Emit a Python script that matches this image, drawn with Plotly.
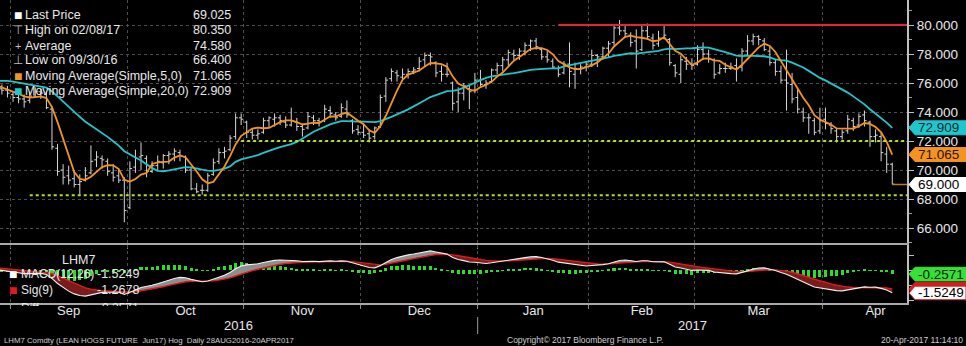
import numpy as np
import pandas as pd
import plotly.graph_objects as go

W, H = 966, 346

# Sessions just before the window; they only seed the averages and the MACD
prior_close = [75.4, 75.6, 75.9, 76.2, 76.0, 76.4, 76.6, 76.3, 76.5, 76.8,
               76.6, 76.4, 76.7, 76.3, 76.1, 76.2, 75.9, 75.7, 75.8]

# Daily OHLC, LHM7 (Lean Hogs Jun17), 29 Aug 2016 - 20 Apr 2017
open_ = [75.8, 75.6, 75.5, 75.2, 75.0, 74.9, 74.8, 75.1, 75.4, 75.2,
         74.2, 71.5, 70.0, 69.6, 69.4, 69.0, 69.3, 69.8, 70.7, 70.8,
         70.6, 69.8, 69.6, 69.3, 67.4, 70.2, 70.9, 70.8, 69.9, 70.3,
         70.5, 71.0, 71.1, 71.2, 70.9, 70.0, 68.7, 68.6, 68.6, 69.7,
         70.6, 71.2, 71.4, 72.3, 73.6, 73.3, 72.6, 72.4, 72.6, 73.4,
         73.5, 73.6, 73.3, 73.1, 73.3, 73.0, 72.9, 73.6, 73.4, 73.4,
         74.1, 73.8, 73.7, 74.2, 73.4, 72.8, 72.6, 72.5, 72.3, 73.0,
         75.1, 76.3, 76.7, 76.4, 76.6, 76.8, 77.0, 77.6, 77.9, 77.4,
         76.8, 76.6, 76.0, 74.7, 75.3, 75.6, 75.5, 76.2, 75.9, 76.1,
         76.9, 77.2, 77.6, 78.0, 77.9, 78.2, 78.6, 78.9, 78.3, 77.8,
         77.5, 77.0, 76.7, 77.3, 76.6, 77.0, 77.1, 77.3, 77.9, 77.8,
         78.4, 78.8, 79.8, 79.6, 79.3, 78.9, 78.3, 79.6, 79.1, 78.7,
         79.1, 79.0, 77.2, 76.6, 77.5, 77.3, 77.3, 78.3, 78.0, 77.6,
         76.7, 77.0, 77.0, 77.2, 77.1, 78.2, 78.9, 79.2, 78.9, 78.2,
         77.4, 76.8, 76.2, 75.9, 75.0, 74.0, 73.6, 73.4, 72.7, 73.5,
         73.1, 72.7, 72.3, 72.7, 73.4, 73.1, 73.8, 73.3, 72.3, 72.3,
         71.1, 70.4]
high = [76.1, 75.9, 75.8, 75.4, 75.5, 75.2, 75.4, 75.7, 75.6, 75.4,
        74.4, 71.8, 70.4, 70.3, 70.0, 69.7, 70.2, 71.7, 71.3, 71.0,
        70.8, 70.4, 70.0, 69.5, 70.6, 71.4, 71.9, 71.0, 70.6, 71.0,
        71.1, 71.3, 71.5, 71.4, 71.0, 70.2, 69.1, 69.0, 69.8, 70.8,
        71.5, 71.6, 72.4, 73.9, 73.9, 73.4, 72.9, 72.8, 73.6, 73.7,
        73.9, 73.8, 73.7, 74.3, 73.6, 73.2, 74.0, 73.8, 73.6, 74.5,
        74.4, 74.0, 74.6, 74.8, 73.5, 73.1, 73.2, 72.8, 73.0, 75.2,
        76.4, 77.0, 76.9, 77.0, 77.0, 77.1, 77.8, 78.1, 78.1, 77.5,
        77.2, 77.4, 76.1, 75.7, 76.0, 75.8, 76.7, 76.9, 76.2, 77.0,
        77.4, 77.8, 78.3, 78.3, 78.4, 78.8, 79.0, 79.1, 78.4, 78.2,
        77.7, 77.2, 77.5, 78.8, 77.4, 77.3, 77.5, 78.3, 78.0, 78.5,
        78.9, 80.0, 80.35, 80.0, 79.5, 79.7, 80.0, 80.1, 79.4, 79.6,
        80.0, 79.1, 77.3, 77.9, 77.8, 77.7, 78.6, 78.8, 78.3, 77.7,
        77.3, 77.4, 77.4, 77.7, 78.4, 79.3, 79.4, 79.3, 79.1, 78.5,
        77.6, 77.2, 78.3, 76.7, 75.7, 74.3, 73.9, 73.6, 74.3, 74.3,
        73.3, 72.9, 72.8, 73.8, 73.6, 73.9, 74.1, 73.4, 72.8, 72.6,
        71.6, 70.5]
low = [75.3, 75.2, 75.0, 74.7, 74.6, 74.3, 74.6, 75.0, 74.9, 74.2,
       71.4, 69.6, 69.0, 69.0, 68.8, 68.3, 69.2, 69.7, 70.2, 70.1,
       69.6, 69.2, 69.1, 66.4, 67.3, 69.8, 70.0, 69.5, 69.8, 70.0,
       70.1, 70.4, 70.6, 70.6, 69.8, 68.6, 68.4, 68.3, 68.5, 69.6,
       70.4, 70.8, 71.3, 72.1, 73.1, 72.2, 72.1, 72.1, 72.5, 72.9,
       73.0, 73.1, 72.9, 73.0, 72.7, 72.3, 72.8, 73.1, 73.0, 73.3,
       73.6, 73.4, 73.6, 73.6, 72.5, 72.4, 72.2, 71.9, 72.1, 72.9,
       74.7, 76.1, 76.1, 76.2, 76.3, 76.6, 76.8, 77.1, 77.2, 76.4,
       76.1, 76.4, 74.1, 74.0, 74.8, 74.2, 75.3, 75.8, 75.6, 76.0,
       76.6, 76.8, 77.2, 77.6, 77.6, 77.9, 78.2, 78.3, 77.6, 77.4,
       77.0, 76.4, 76.6, 75.7, 75.6, 76.6, 76.8, 77.1, 77.1, 77.6,
       77.8, 78.6, 79.3, 79.1, 78.5, 77.0, 78.2, 79.0, 78.3, 78.5,
       79.0, 77.2, 76.4, 76.0, 76.9, 76.9, 77.2, 77.6, 77.4, 76.3,
       76.6, 76.7, 76.9, 76.1, 76.8, 77.9, 78.6, 78.6, 78.2, 77.2,
       76.5, 76.0, 74.1, 74.6, 73.9, 73.3, 72.5, 72.4, 72.5, 72.8,
       72.5, 71.9, 72.1, 72.5, 72.7, 72.9, 73.0, 71.6, 71.9, 70.6,
       69.8, 69.0]
close = [75.6, 75.5, 75.3, 75.0, 74.9, 74.7, 75.1, 75.4, 75.3, 74.3,
         71.6, 69.9, 69.5, 69.3, 69.0, 69.2, 69.6, 70.6, 70.9, 70.7,
         69.9, 69.5, 69.3, 67.2, 70.1, 70.8, 71.0, 69.9, 70.3, 70.6,
         71.0, 71.1, 71.3, 71.0, 70.0, 68.7, 68.5, 68.6, 69.6, 70.5,
         71.2, 71.3, 72.2, 73.6, 73.5, 72.6, 72.4, 72.5, 73.4, 73.6,
         73.6, 73.4, 73.1, 73.4, 73.0, 72.8, 73.7, 73.4, 73.3, 74.2,
         73.9, 73.6, 74.3, 73.8, 72.7, 72.6, 72.4, 72.2, 72.9, 75.0,
         76.2, 76.8, 76.5, 76.6, 76.8, 76.9, 77.5, 77.9, 77.8, 76.7,
         76.6, 76.6, 74.6, 75.3, 75.8, 75.4, 76.2, 75.9, 76.0, 76.9,
         77.2, 77.6, 78.1, 77.9, 78.2, 78.6, 78.9, 78.5, 77.8, 77.6,
         77.1, 76.6, 77.3, 76.8, 77.0, 77.1, 77.3, 77.9, 77.8, 78.4,
         78.7, 79.8, 79.6, 79.4, 78.8, 78.2, 79.6, 79.2, 78.6, 79.1,
         79.3, 77.4, 76.7, 77.6, 77.3, 77.2, 78.3, 78.0, 77.7, 76.6,
         77.0, 77.0, 77.1, 77.0, 78.2, 78.9, 79.2, 79.0, 78.3, 77.4,
         76.8, 76.2, 76.0, 74.9, 74.2, 73.6, 73.6, 72.6, 73.4, 73.2,
         72.85, 72.3, 72.6, 73.5, 73.0, 73.7, 73.4, 72.3, 72.4, 71.2,
         70.4, 69.025]

holidays = ["2016-09-05", "2016-11-24", "2016-12-26", "2017-01-02",
            "2017-01-16", "2017-02-20", "2017-04-14"]
month_labels = ["Sep", "Oct", "Nov", "Dec", "Jan", "Feb", "Mar", "Apr"]
year_labels = ["2016", "2017"]
price_ticks = [66, 68, 70, 72, 74, 76, 78, 80]

resistance = {"level": 80.0, "from": "2017-01-24"}
supports = [{"level": 72.0, "from": "2016-10-31"},
            {"level": 68.25, "from": "2016-09-07"}]

legend_rows = [("Last Price", "69.025"), ("High on 02/08/17", "80.350"),
               ("Average", "74.580"), ("Low on 09/30/16", "66.400"),
               ("Moving Average(Simple,5,0)", "71.065"),
               ("Moving Average(Simple,20,0)", "72.909")]
macd_rows = [("MACD(12,26)", "-1.5249"), ("Sig(9)", "-1.2678"), ("Diff", "-0.2571")]
price_tags = [72.909, 71.065, 69.000]
macd_tags = [-1.2678, -1.5249, -0.2571]

# ---- trading calendar (index axis, no weekend gaps) ----
sessions = pd.bdate_range("2016-08-29", "2017-04-20")
sessions = sessions[~sessions.isin(pd.to_datetime(holidays))]
n = len(close)
assert len(sessions) == n
idx = np.arange(n)

def session_index(day):
    return int(sessions.get_loc(pd.Timestamp(day)))

month_first = [i for i in range(1, n) if sessions[i].month != sessions[i - 1].month]
bounds = [i - 0.5 for i in month_first]
last_month = pd.bdate_range("2017-04-01", "2017-04-30")
last_month = last_month[~last_month.isin(pd.to_datetime(holidays))]
ends = bounds[1:] + [bounds[-1] + len(last_month)]
month_mid = [(a + b) / 2 for a, b in zip(bounds, ends)]

x_range = [0.66, 163.65]
year_split = bounds[month_labels.index("Jan")]
year_mid = [(x_range[0] + year_split) / 2, (year_split + x_range[1]) / 2]

# ---- studies ----
c_all = pd.Series(prior_close + close, dtype=float)
k0 = len(prior_close)
ma5 = c_all.rolling(5).mean().to_numpy()[k0:]
ma20 = c_all.rolling(20).mean().to_numpy()[k0:]
macd_all = c_all.ewm(span=12, adjust=False).mean() - c_all.ewm(span=26, adjust=False).mean()
sig_all = macd_all.ewm(span=9, adjust=False).mean()
macd = macd_all.to_numpy()[k0:]
sig = sig_all.to_numpy()[k0:]
hist = macd - sig

# ---- layout geometry ----
def px(x):
    return x / W

def py(y):
    return 1 - y / H

x_dom = [0, px(907)]
main_dom = [py(243), 1]
macd_dom = [py(303), py(245)]
main_rng = [80 - 218 / 14.5, 80 + 25 / 14.5]
macd_rng = [-2.2, 1.7]

FONT = "Liberation Sans, Arial, sans-serif"
TXT = "#e8e8e8"
GRID = "#4d4d4d"
BAR = "#d6d6d6"
ORANGE = "#f39322"
CYAN = "#1fc6cc"

fig = go.Figure()

fig.add_trace(go.Ohlc(x=idx, open=open_, high=high, low=low, close=close,
                      increasing_line_color=BAR, decreasing_line_color=BAR,
                      line_width=1, tickwidth=0.4, xaxis="x", yaxis="y",
                      hoverinfo="skip", showlegend=False))
fig.add_trace(go.Scatter(x=idx, y=ma20, mode="lines", line=dict(color=CYAN, width=1.8),
                         xaxis="x", yaxis="y", hoverinfo="skip", showlegend=False))
fig.add_trace(go.Scatter(x=idx, y=ma5, mode="lines", line=dict(color=ORANGE, width=1.8),
                         xaxis="x", yaxis="y", hoverinfo="skip", showlegend=False))

# MACD histogram
fig.add_trace(go.Bar(x=idx, y=hist, width=0.55, marker=dict(color="#2bdc2b", line_width=0),
                     xaxis="x2", yaxis="y2", hoverinfo="skip", showlegend=False))

# band between MACD and signal, grey above / dark red below
above = hist >= 0
start = 0
for k in range(1, n + 1):
    if k == n or above[k] != above[start]:
        xs = list(idx[start:k].astype(float))
        ym = list(macd[start:k])
        ys = list(sig[start:k])
        if start > 0:
            t = hist[start - 1] / (hist[start - 1] - hist[start])
            yc = macd[start - 1] + t * (macd[start] - macd[start - 1])
            xs, ym, ys = [start - 1 + t] + xs, [yc] + ym, [yc] + ys
        if k < n:
            t = hist[k - 1] / (hist[k - 1] - hist[k])
            yc = macd[k - 1] + t * (macd[k] - macd[k - 1])
            xs, ym, ys = xs + [k - 1 + t], ym + [yc], ys + [yc]
        fig.add_trace(go.Scatter(x=xs + xs[::-1], y=ym + ys[::-1], mode="lines",
                                 fill="toself", line=dict(width=0),
                                 fillcolor="#8e8e8e" if above[start] else "#7a1c1c",
                                 xaxis="x2", yaxis="y2", hoverinfo="skip", showlegend=False))
        start = k

fig.add_trace(go.Scatter(x=idx, y=sig, mode="lines", line=dict(color="#e01a1a", width=1.4),
                         xaxis="x2", yaxis="y2", hoverinfo="skip", showlegend=False))
fig.add_trace(go.Scatter(x=idx, y=macd, mode="lines", line=dict(color="#f2f2f2", width=1.1),
                         xaxis="x2", yaxis="y2", hoverinfo="skip", showlegend=False))

shapes = []
shapes.append(dict(type="line", xref="x", yref="y", layer="above",
                   x0=session_index(resistance["from"]), x1=x_range[1],
                   y0=resistance["level"], y1=resistance["level"],
                   line=dict(color="#e8213f", width=2)))
for s in supports:
    shapes.append(dict(type="line", xref="x", yref="y", layer="above",
                       x0=session_index(s["from"]), x1=x_range[1],
                       y0=s["level"], y1=s["level"],
                       line=dict(color="#b4e01e", width=2, dash="dot")))
# last-price leader to the axis tag
shapes.append(dict(type="line", xref="x", yref="y", layer="above",
                   x0=idx[-1], x1=x_range[1], y0=price_tags[2], y1=price_tags[2],
                   line=dict(color="#b9782e", width=1.5)))
# year separator under the month row
shapes.append(dict(type="line", xref="x2", yref="paper", x0=year_split, x1=year_split,
                   y0=py(334), y1=py(317), line=dict(color="#9a9a9a", width=1)))

def tag(value, yref, half, fill, edge=None):
    a, b = px(909), px(915)
    path = (f"M {a},{value} L {b},{value + half} L 1,{value + half} "
            f"L 1,{value - half} L {b},{value - half} Z")
    return dict(type="path", xref="paper", yref=yref, path=path, fillcolor=fill,
                line=dict(color=edge or fill, width=1), layer="above")

main_half = 7 / 14.5
macd_half = 6.8 / (58 / (macd_rng[1] - macd_rng[0]))
tag_fill = [CYAN, ORANGE, "#ffffff"]
tag_text = ["#0c2b33", "#2b1400", "#000000"]
for v, f in zip(price_tags, tag_fill):
    shapes.append(tag(v, "y", main_half, f))
shapes.append(tag(macd_tags[0], "y2", macd_half, "#d81c1c"))
shapes.append(tag(macd_tags[1], "y2", macd_half, "#ffffff", "#d81c1c"))
shapes.append(tag(macd_tags[2], "y2", macd_half, "#36e036"))

ann = []

def label(x, y, text, color=TXT, size=12.5, xanchor="left", yref="paper", **kw):
    d = dict(x=px(x), y=py(y) if yref == "paper" else y, xref="paper", yref=yref,
             text=text, showarrow=False, xanchor=xanchor, yanchor="middle",
             font=dict(family=FONT, size=size, color=color))
    d.update(kw)
    ann.append(d)

for v, f, t in zip(price_tags, tag_fill, tag_text):
    label(916, v, f"{v:.3f}", color=t, size=13.5, yref="y")
label(916, macd_tags[2], f"{macd_tags[2]:.4f}", color="#062006", size=13.5, yref="y2")
label(916, macd_tags[1], f"{macd_tags[1]:.4f}", color="#000000", size=13.5, yref="y2")

# price legend
icons = [("■", "#ffffff", 14), ("⊤", "#bdbdbd", 12), ("+", "#bdbdbd", 11),
         ("⊥", "#bdbdbd", 12), ("■", ORANGE, 14), ("■", CYAN, 14)]
rows_y = [15, 30.5, 45.5, 60.5, 76, 91]
for (name, val), (ic, icol, isz), yy in zip(legend_rows, icons, rows_y):
    label(18, yy, ic, color=icol, size=isz, xanchor="center")
    label(23, yy, name)
    label(233, yy, val, xanchor="right")

# MACD legend
label(60, 260, "LHM7")
macd_icons = ["#ffffff", "#e01a1a", "#2bdc2b"]
for (name, val), icol, yy in zip(macd_rows[:2], macd_icons, [274, 290]):
    label(13, yy, "■", color=icol, size=14, xanchor="center")
    label(19, yy, name, size=12)
    label(141, yy, val, xanchor="right")
# third row runs into the panel edge, only its top shows
for x, t, col, xa in [(13, "■", macd_icons[2], "center"), (19, macd_rows[2][0], TXT, "left"),
                      (141, macd_rows[2][1], TXT, "right")]:
    ann.append(dict(x=px(x), y=py(299), xref="paper", yref="paper", text=t,
                    showarrow=False, xanchor=xa, yanchor="top", valign="top", height=5,
                    font=dict(family=FONT, size=12 if t != "■" else 14, color=col)))

# year row
for xm, yl in zip(year_mid, year_labels):
    ann.append(dict(x=xm, y=py(325), xref="x2", yref="paper", text=yl, showarrow=False,
                    xanchor="center", yanchor="middle", font=dict(family=FONT, size=13, color=TXT)))

# footer
label(2, 340, "LHM7 Comdty (LEAN HOGS FUTURE  Jun17) Hog  Daily 28AUG2016-20APR2017",
      color="#cfcfcf", size=7.8)
label(585, 340, "Copyright© 2017 Bloomberg Finance L.P.", color="#cfcfcf", size=8.5,
      xanchor="center")
label(965, 340, "20-Apr-2017 11:14:10", color="#cfcfcf", size=8.5, xanchor="right")

xcommon = dict(range=x_range, domain=x_dom, showgrid=False, zeroline=False,
               tickmode="array", tickvals=month_mid, ticktext=month_labels, ticks="",
               minor=dict(tickmode="array", tickvals=bounds, showgrid=True,
                          gridcolor=GRID, griddash="dot", gridwidth=1,
                          ticks="outside", ticklen=4, tickcolor="#8a8a8a"),
               showline=True, linecolor="#a8a8a8", linewidth=2)

fig.update_layout(
    width=W, height=H, margin=dict(l=0, r=0, t=0, b=0),
    paper_bgcolor="#000000", plot_bgcolor="#000000",
    showlegend=False, bargap=0,
    font=dict(family=FONT, color=TXT),
    xaxis=dict(**xcommon, anchor="y", showticklabels=False, rangeslider=dict(visible=False)),
    xaxis2=dict(**xcommon, anchor="y2", matches="x", showticklabels=True,
                ticklabelstandoff=-6,
                tickfont=dict(family=FONT, size=13, color=TXT)),
    yaxis=dict(domain=main_dom, range=main_rng, side="right", anchor="x",
               tickmode="array", tickvals=price_ticks, tickformat=".3f",
               ticks="outside", ticklen=5, tickcolor="#bfbfbf", tickwidth=1,
               minor=dict(dtick=1, ticks="outside", ticklen=3, tickcolor="#9a9a9a", showgrid=False),
               showgrid=True, gridcolor=GRID, griddash="dot", gridwidth=1, zeroline=False,
               showline=True, linecolor="#bfbfbf", linewidth=2,
               tickfont=dict(family=FONT, size=13.5, color=TXT)),
    yaxis2=dict(domain=macd_dom, range=macd_rng, side="right", anchor="x2",
                tickmode="array", tickvals=[-2, -1, 0, 1], showticklabels=False,
                ticks="outside", ticklen=5, tickcolor="#bfbfbf",
                showgrid=False, zeroline=False,
                showline=True, linecolor="#bfbfbf", linewidth=2),
    shapes=shapes, annotations=ann,
)

fig.write_html("out.html")
